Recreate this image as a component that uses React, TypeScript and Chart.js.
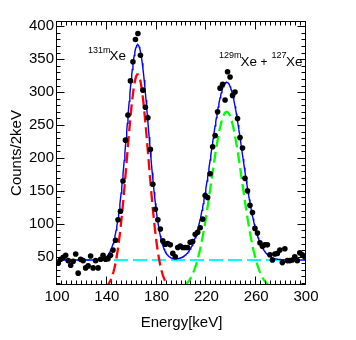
import React, { useEffect, useRef } from 'react';
import { Chart, registerables } from 'chart.js';

Chart.register(...registerables);

// Bin centres (keV), 2 keV bins
const energies = [
  101, 103, 105, 107, 109, 111, 113, 115, 117, 119,
  121, 123, 125, 127, 129, 131, 133, 135, 137, 139,
  141, 143, 145, 147, 149, 151, 153, 155, 157, 159,
  161, 163, 165, 167, 169, 171, 173, 175, 177, 179,
  181, 183, 185, 187, 189, 191, 193, 195, 197, 199,
  201, 203, 205, 207, 209, 211, 213, 215, 217, 219,
  221, 223, 225, 227, 229, 231, 233, 235, 237, 239,
  241, 243, 245, 247, 249, 251, 253, 255, 257, 259,
  261, 263, 265, 267, 269, 271, 273, 275, 277, 279,
  281, 283, 285, 287, 289, 291, 293, 295, 297, 299,
];

// Counts per 2 keV
const counts = [
  40, 46, 49, 52, 44, 37, 43, 54, 25, 46,
  44, 33, 36, 51, 33, 44, 33, 46, 52, 46,
  47, 52, 60, 75, 106, 119, 165, 227, 265, 317,
  346, 380, 389, 356, 303, 277, 261, 213, 160, 122,
  106, 92, 74, 69, 70, 68, 55, 50, 64, 66,
  64, 64, 64, 72, 73, 84, 87, 94, 107, 143,
  140, 176, 217, 234, 270, 306, 312, 288, 331, 323,
  295, 300, 260, 231, 215, 169, 150, 128, 117, 93,
  86, 71, 66, 68, 68, 53, 45, 54, 55, 60,
  41, 62, 44, 44, 45, 50, 44, 56, 53, 50,
];

const xTicks = [100, 140, 180, 220, 260, 300];
const yTicks = [50, 100, 150, 200, 250, 300, 350, 400];

// Fit parameters
const fitBackground = 45;
const peak131m = { amp: 327, mean: 164.8, sigma: 8.7 };
const peak129m127 = { amp: 270, mean: 236.3, sigma: 12.4 };

const X_MIN = 100;
const X_MAX = 300;
const Y_MIN = 7;
const Y_MAX = 408;

const FONT = "'Liberation Sans', Arial, Helvetica, sans-serif";

function gauss(p: { amp: number; mean: number; sigma: number }, e: number) {
  const d = (e - p.mean) / p.sigma;
  return p.amp * Math.exp(-0.5 * d * d);
}

const frameTicksPlugin = {
  id: 'frameTicks',
  afterDraw(chart: any) {
    const { ctx, chartArea } = chart;
    const { left, right, top, bottom } = chartArea;
    const xs = chart.scales.x;
    const ys = chart.scales.y;
    const L = Math.round(left) - 0.5;
    const R = Math.round(right) - 0.5;
    const T = Math.round(top) + 0.5;
    const B = Math.round(bottom) - 0.5;
    ctx.save();
    ctx.strokeStyle = '#000';
    ctx.lineWidth = 1;
    ctx.beginPath();
    // x ticks, every 4 keV; major at labelled values
    for (let v = X_MIN; v <= X_MAX + 0.001; v += 4) {
      const isMajor = xTicks.includes(Math.round(v));
      const len = isMajor ? 8 : 4;
      const px = Math.round(xs.getPixelForValue(v)) - 0.5;
      ctx.moveTo(px, B);
      ctx.lineTo(px, B - len);
      ctx.moveTo(px, T);
      ctx.lineTo(px, T + len);
    }
    // y ticks, every 10 counts; major every 50
    for (let v = 10; v <= Y_MAX; v += 10) {
      if (v < Y_MIN) continue;
      const isMajor = v % 50 === 0;
      const len = isMajor ? 8 : 4;
      const py = Math.round(ys.getPixelForValue(v)) + 0.5;
      ctx.moveTo(L, py);
      ctx.lineTo(L + len, py);
      ctx.moveTo(R, py);
      ctx.lineTo(R - len, py);
    }
    ctx.stroke();
    ctx.strokeRect(L, T, R - L, B - T);

    // annotations
    ctx.fillStyle = '#000';
    ctx.textBaseline = 'alphabetic';
    ctx.textAlign = 'left';
    const sup = `9px ${FONT}`;
    const main = `13.5px ${FONT}`;
    ctx.font = sup;
    ctx.fillText('131m', 88, 52.5);
    ctx.font = main;
    ctx.fillText('Xe', 109.5, 60);

    ctx.font = sup;
    ctx.fillText('129m', 219, 57.5);
    ctx.font = main;
    ctx.fillText('Xe', 240.5, 66);
    ctx.font = `12px ${FONT}`;
    ctx.fillText('+', 260.5, 66);
    ctx.font = sup;
    ctx.fillText('127', 271.5, 57.5);
    ctx.font = main;
    ctx.fillText('Xe', 286, 66);
    ctx.restore();
  },
};

export default function App() {
  const canvasRef = useRef<HTMLCanvasElement | null>(null);

  useEffect(() => {
    if (!canvasRef.current) return;
    Chart.defaults.font.family = FONT;

    const grid: number[] = [];
    for (let e = X_MIN; e <= X_MAX + 0.001; e += 0.5) grid.push(e);

    const bgLine = grid.map((e) => ({ x: e, y: fitBackground }));
    const redLine = grid.map((e) => ({ x: e, y: gauss(peak131m, e) }));
    const greenLine = grid.map((e) => ({ x: e, y: gauss(peak129m127, e) }));
    const blueLine = grid.map((e) => ({
      x: e,
      y: fitBackground + gauss(peak131m, e) + gauss(peak129m127, e),
    }));
    const points = energies.map((e, i) => ({ x: e, y: counts[i] }));

    const lineDs = (data: any[], color: string, width: number, dash: number[], order: number) => ({
      type: 'scatter' as const,
      data,
      showLine: true,
      borderColor: color,
      borderWidth: width,
      borderDash: dash,
      pointRadius: 0,
      fill: false,
      tension: 0,
      order,
    });

    const chart = new Chart(canvasRef.current, {
      type: 'scatter',
      data: {
        datasets: [
          {
            data: points,
            pointRadius: 2.8,
            pointBackgroundColor: '#000',
            pointBorderWidth: 0,
            showLine: false,
            order: 0,
          } as any,
          lineDs(blueLine, '#0000ff', 1.4, [], 1),
          lineDs(redLine, '#ff0000', 2.3, [11, 5], 2),
          lineDs(greenLine, '#00ff00', 2.3, [11, 5], 3),
          lineDs(bgLine, '#00ffff', 1.8, [14, 5], 4),
        ],
      },
      options: {
        responsive: false,
        animation: false,
        devicePixelRatio: 1,
        layout: { padding: { left: 0, right: 50, top: 21, bottom: 0 } },
        plugins: {
          legend: { display: false },
          tooltip: { enabled: false },
        },
        scales: {
          x: {
            type: 'linear',
            min: X_MIN,
            max: X_MAX,
            afterBuildTicks: (s: any) => {
              s.ticks = xTicks.map((v) => ({ value: v }));
            },
            afterFit: (s: any) => {
              s.height = 55;
            },
            grid: { display: false, drawTicks: false },
            border: { display: false },
            ticks: {
              color: '#000',
              font: { size: 15, family: FONT },
              padding: 3,
              maxRotation: 0,
              autoSkip: false,
            },
            title: {
              display: true,
              text: 'Energy[keV]',
              color: '#000',
              font: { size: 15, family: FONT },
              padding: { top: 0, bottom: 8 },
            },
          },
          y: {
            type: 'linear',
            min: Y_MIN,
            max: Y_MAX,
            afterBuildTicks: (s: any) => {
              s.ticks = yTicks.map((v) => ({ value: v }));
            },
            afterFit: (s: any) => {
              s.width = 57;
            },
            grid: { display: false, drawTicks: false },
            border: { display: false },
            ticks: {
              color: '#000',
              font: { size: 15, family: FONT },
              padding: 3,
              autoSkip: false,
            },
            title: {
              display: true,
              text: 'Counts/2keV',
              color: '#000',
              font: { size: 15, family: FONT },
              padding: { top: 8, bottom: 0 },
            },
          },
        },
      },
      plugins: [frameTicksPlugin],
    } as any);

    return () => chart.destroy();
  }, []);

  return (
    <div style={{ position: 'fixed', left: 0, top: 0, width: 356, height: 340, background: '#fff' }}>
      <canvas ref={canvasRef} width={356} height={340} style={{ display: 'block' }} />
    </div>
  );
}
